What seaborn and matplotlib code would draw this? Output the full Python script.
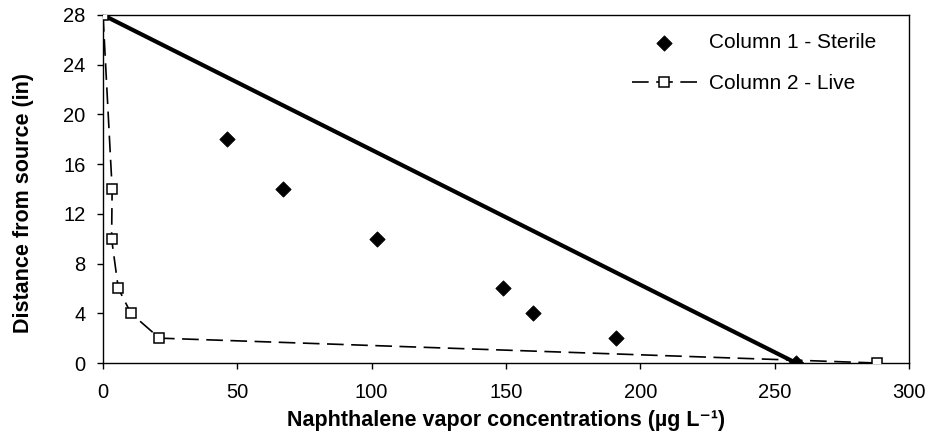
import matplotlib
matplotlib.use("Agg")
import matplotlib.pyplot as plt
import seaborn as sns
import pandas as pd

# Data
sterile_x = [46, 67, 102, 149, 160, 191, 258]
sterile_y = [18, 14, 10, 6, 4, 2, 0]
live_x = [0, 3.4, 3.2, 5.7, 10.4, 21, 288]
live_y = [28, 14, 10, 6, 4, 2, 0]
line_x = [0, 258]
line_y = [28, 0]
xticks = [0, 50, 100, 150, 200, 250, 300]
yticks = [0, 4, 8, 12, 16, 20, 24, 28]

sns.set_theme(style="ticks")
plt.rcParams['font.family'] = ['Liberation Sans', 'DejaVu Sans']
plt.rcParams['text.color'] = 'black'
plt.rcParams['axes.labelcolor'] = 'black'

fig = plt.figure(figsize=(9.3, 4.44), dpi=100)
ax = fig.add_axes([103/930, 1-363/444, (909-103)/930, (363-15)/444])

df_line = pd.DataFrame({"x": line_x, "y": line_y})
sns.lineplot(data=df_line, x="x", y="y", ax=ax, color="black", linewidth=3.0,
             sort=False, estimator=None, legend=False, zorder=2)

df_live = pd.DataFrame({"x": live_x, "y": live_y})
sns.lineplot(data=df_live, x="x", y="y", ax=ax, color="black", linewidth=1.2,
             sort=False, estimator=None, zorder=3, marker="s", markersize=7.5,
             markerfacecolor="white", markeredgecolor="black", markeredgewidth=1.1,
             dashes=False, label="Column 2 - Live")
ax.lines[-1].set_dashes([10, 4.5])

df_st = pd.DataFrame({"x": sterile_x, "y": sterile_y})
sns.scatterplot(data=df_st, x="x", y="y", ax=ax, marker="D", s=60, color="black",
                edgecolor="black", zorder=4, label="Column 1 - Sterile")

ax.set_xlim(0, 300)
ax.set_ylim(0, 28)
ax.set_xticks(xticks)
ax.set_yticks(yticks)
ax.tick_params(axis="both", direction="out", length=4.5, width=1, labelsize=14.5, colors="black")
ax.tick_params(axis="x", pad=10)
ax.tick_params(axis="y", pad=8)
for s in ax.spines.values():
    s.set_visible(True)
    s.set_linewidth(1.0)
    s.set_color("black")

ax.set_xlabel("Naphthalene vapor concentrations (µg L⁻¹)", fontsize=15.5, fontweight="bold",
              labelpad=6, color="black")
ax.set_ylabel("Distance from source (in)", fontsize=15.5, fontweight="bold",
              labelpad=21, color="black")
ax.yaxis.label.set_y(0.46)

h, l = ax.get_legend_handles_labels()
order = [l.index("Column 1 - Sterile"), l.index("Column 2 - Live")]
leg = ax.legend([h[i] for i in order], [l[i] for i in order], loc="upper left",
                bbox_to_anchor=((632-103)/806, 1-(33-15)/348), frameon=False, fontsize=15,
                handlelength=3.1, handletextpad=0.6, labelspacing=1.05,
                borderpad=0, borderaxespad=0)
for t in leg.get_texts():
    t.set_color("black")

fig.savefig("out.png", dpi=100)
